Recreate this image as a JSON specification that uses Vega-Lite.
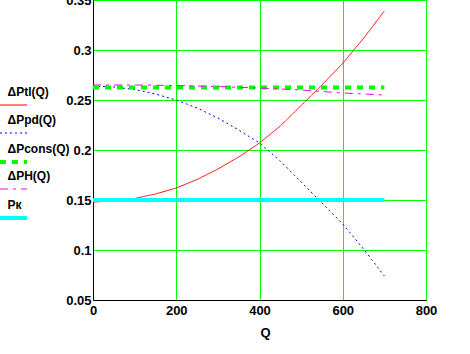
{
  "$schema": "https://vega.github.io/schema/vega-lite/v6.json",
  "width": 333,
  "height": 300,
  "autosize": "none",
  "padding": {"left": 93, "top": 0, "right": 44, "bottom": 54},
  "background": "white",
  "config": {
    "view": {"stroke": "black", "strokeWidth": 1},
    "axis": {
      "gridColor": "#00ff00", "gridOpacity": 1, "gridWidth": 1,
      "domainColor": "black", "domainWidth": 1, "ticks": false,
      "labelFont": "Liberation Sans", "labelFontWeight": "bold", "labelFontSize": 13, "labelColor": "black",
      "titleFont": "Liberation Sans", "titleFontWeight": "bold", "titleFontSize": 13, "titleColor": "black"
    },
    "legend": {
      "orient": "none", "legendX": -93, "legendY": 86,
      "symbolType": "M-2.7,2.6L2.7,2.6", "symbolSize": 100,
      "labelOffset": -13, "symbolOffset": 6.5,
      "labelFont": "Liberation Sans", "labelFontWeight": "bold", "labelFontSize": 12, "labelColor": "black",
      "labelBaseline": "middle", "rowPadding": -1.5, "gridAlign": "all", "padding": 0
    }
  },
  "data": {"values": [
    {"series": "ΔPtl(Q)", "Q": 0, "P": 0.148},
    {"series": "ΔPtl(Q)", "Q": 50, "P": 0.149},
    {"series": "ΔPtl(Q)", "Q": 100, "P": 0.1515},
    {"series": "ΔPtl(Q)", "Q": 150, "P": 0.156},
    {"series": "ΔPtl(Q)", "Q": 200, "P": 0.162},
    {"series": "ΔPtl(Q)", "Q": 250, "P": 0.1705},
    {"series": "ΔPtl(Q)", "Q": 300, "P": 0.181},
    {"series": "ΔPtl(Q)", "Q": 350, "P": 0.193},
    {"series": "ΔPtl(Q)", "Q": 400, "P": 0.207},
    {"series": "ΔPtl(Q)", "Q": 450, "P": 0.224},
    {"series": "ΔPtl(Q)", "Q": 500, "P": 0.2445},
    {"series": "ΔPtl(Q)", "Q": 550, "P": 0.265},
    {"series": "ΔPtl(Q)", "Q": 600, "P": 0.2867},
    {"series": "ΔPtl(Q)", "Q": 650, "P": 0.3117},
    {"series": "ΔPtl(Q)", "Q": 700, "P": 0.339},
    {"series": "ΔPpd(Q)", "Q": 0, "P": 0.264},
    {"series": "ΔPpd(Q)", "Q": 50, "P": 0.263},
    {"series": "ΔPpd(Q)", "Q": 100, "P": 0.2605},
    {"series": "ΔPpd(Q)", "Q": 150, "P": 0.256},
    {"series": "ΔPpd(Q)", "Q": 200, "P": 0.25},
    {"series": "ΔPpd(Q)", "Q": 250, "P": 0.242},
    {"series": "ΔPpd(Q)", "Q": 300, "P": 0.232},
    {"series": "ΔPpd(Q)", "Q": 350, "P": 0.22},
    {"series": "ΔPpd(Q)", "Q": 400, "P": 0.207},
    {"series": "ΔPpd(Q)", "Q": 450, "P": 0.189},
    {"series": "ΔPpd(Q)", "Q": 500, "P": 0.168},
    {"series": "ΔPpd(Q)", "Q": 550, "P": 0.147},
    {"series": "ΔPpd(Q)", "Q": 600, "P": 0.126},
    {"series": "ΔPpd(Q)", "Q": 650, "P": 0.101},
    {"series": "ΔPpd(Q)", "Q": 700, "P": 0.074},
    {"series": "ΔPcons(Q)", "Q": 0, "P": 0.2625},
    {"series": "ΔPcons(Q)", "Q": 700, "P": 0.2625},
    {"series": "ΔPH(Q)", "Q": 0, "P": 0.265},
    {"series": "ΔPH(Q)", "Q": 100, "P": 0.265},
    {"series": "ΔPH(Q)", "Q": 200, "P": 0.2645},
    {"series": "ΔPH(Q)", "Q": 300, "P": 0.2635},
    {"series": "ΔPH(Q)", "Q": 400, "P": 0.262},
    {"series": "ΔPH(Q)", "Q": 500, "P": 0.26},
    {"series": "ΔPH(Q)", "Q": 600, "P": 0.257},
    {"series": "ΔPH(Q)", "Q": 700, "P": 0.255},
    {"series": "Pк", "Q": 0, "P": 0.15},
    {"series": "Pк", "Q": 700, "P": 0.15}
  ]},
  "mark": {"type": "line"},
  "encoding": {
    "x": {
      "field": "Q", "type": "quantitative",
      "scale": {"domain": [0, 800], "nice": false},
      "axis": {"values": [0, 200, 400, 600, 800], "title": "Q", "labelPadding": 4, "labelDx": 3, "labelFlush": false, "titleX": 172, "titleY": 32, "titleBaseline": "middle"}
    },
    "y": {
      "field": "P", "type": "quantitative",
      "scale": {"domain": [0.05, 0.35], "nice": false, "zero": false},
      "axis": {"values": [0.05, 0.1, 0.15, 0.2, 0.25, 0.3, 0.35], "format": ".2~f", "title": null, "labelPadding": 2, "labelFlush": false}
    },
    "color": {
      "field": "series", "type": "nominal",
      "scale": {"domain": ["ΔPtl(Q)", "ΔPpd(Q)", "ΔPcons(Q)", "ΔPH(Q)", "Pк"], "range": ["#ff0000", "#0000ff", "#00ff00", "#ff00ff", "#00ffff"]},
      "legend": {"title": null}
    },
    "strokeDash": {
      "field": "series", "type": "nominal",
      "scale": {"domain": ["ΔPtl(Q)", "ΔPpd(Q)", "ΔPcons(Q)", "ΔPH(Q)", "Pк"], "range": [[1, 0], [2, 3], [6, 6], [8, 5, 3, 5], [1, 0]]},
      "legend": {"title": null}
    },
    "strokeWidth": {
      "field": "series", "type": "nominal",
      "scale": {"type": "ordinal", "domain": ["ΔPtl(Q)", "ΔPpd(Q)", "ΔPcons(Q)", "ΔPH(Q)", "Pк"], "range": [1, 1, 4, 1, 4]},
      "legend": {"title": null}
    }
  }
}
